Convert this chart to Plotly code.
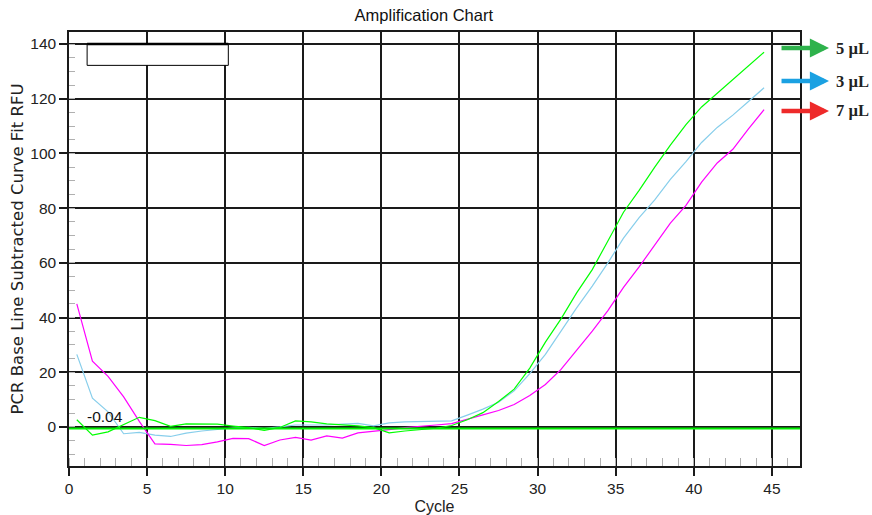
import plotly.graph_objects as go

cycles = [i + 0.5 for i in range(45)]

rfu_5ul = [2.6, -3.0, -1.8, 1.0, 3.5, 2.3, 0.2, 1.1, 1.1, 1.0,
           0.3, -0.3, -1.3, -0.2, 2.2, 1.8, 1.1, 0.7, 0.4, -0.3,
           -2.2, -1.5, -1.0, -0.5, 0.5, 2.6, 5.2, 9.3, 13.8, 21.5,
           31.0, 39.5, 49.0, 57.5, 68.0, 78.5, 86.5, 95.0, 103.0, 110.5,
           117.0, 122.0, 127.0, 132.0, 137.0]
rfu_3ul = [26.5, 10.5, 5.5, -2.5, -2.0, -3.0, -3.5, -2.3, -1.5, -1.0,
           -0.4, -0.2, -0.5, 0.0, 0.7, 0.7, 0.7, 1.0, 1.3, 0.4,
           1.5, 1.8, 1.9, 1.9, 2.2, 4.3, 6.5, 9.0, 13.2, 19.5,
           26.5, 35.0, 43.5, 51.5, 60.0, 69.0, 76.5, 83.0, 90.5, 97.0,
           104.0, 109.5, 114.0, 119.0, 124.0]
rfu_7ul = [45.0, 24.0, 18.5, 11.0, 2.0, -6.2, -6.4, -6.8, -6.5, -5.5,
           -4.2, -4.3, -6.8, -4.8, -3.8, -4.8, -3.3, -4.1, -2.2, -1.7,
           -1.0, -0.3, 0.3, 0.7, 1.2, 2.7, 4.4, 6.0, 8.2, 11.5,
           15.5, 21.0, 28.0, 35.0, 42.5, 51.0, 58.5, 66.5, 74.5, 81.0,
           89.5, 96.5, 101.5, 109.0, 116.0]

threshold = -0.04
series_names = ["5 µL", "3 µL", "7 µL"]
line_colors = ["#00ff00", "#87ceeb", "#ff00ff"]
arrow_colors = ["#2eb24c", "#1ba1e2", "#ee2a2a"]

fig = go.Figure()
order = [1, 2, 0]
data = [rfu_5ul, rfu_3ul, rfu_7ul]
for k in order:
    fig.add_trace(go.Scatter(x=cycles, y=data[k], mode="lines", name=series_names[k],
                             line=dict(color=line_colors[k], width=1.2), showlegend=False))

# threshold line (drawn just below the zero grid line, as in the original)
fig.add_shape(type="line", xref="x domain", x0=0, x1=1, yref="y",
              yanchor=threshold, ysizemode="pixel", y0=-1.5, y1=-1.5,
              line=dict(color="#00f000", width=2.2), layer="above")

# empty box at top-left
fig.add_shape(type="rect", xref="x", yref="y", x0=1.16, x1=10.2, y0=132.2, y1=140,
              fillcolor="white", line=dict(color="black", width=1), layer="above")
fig.add_shape(type="line", xref="x", yref="y", x0=1.16, x1=10.2, y0=140, y1=140,
              line=dict(color="black", width=2.5), layer="above")

fig.add_annotation(x=2.3, y=3.8, xref="x", yref="y", text=str(threshold), showarrow=False,
                   font=dict(family="Liberation Sans, Arial", size=15.5, color="#111"))

# arrows legend
ypos = [0.963, 0.887, 0.818]
for name, col, yy in zip(series_names, arrow_colors, ypos):
    fig.add_annotation(x=1.0397, y=yy, xref="paper", yref="paper", text="",
                       showarrow=True, ax=-49, ay=0, arrowhead=2, arrowsize=0.85,
                       arrowwidth=4.5, arrowcolor=col)
    fig.add_annotation(x=1.047, y=yy, xref="paper", yref="paper", text="<b>%s</b>" % name,
                       showarrow=False, xanchor="left", yanchor="middle",
                       font=dict(family="Liberation Serif, Times New Roman", size=16.5, color="#222"))

axis_font = dict(family="Liberation Sans, Arial", size=15.5, color="#222")
fig.update_layout(
    width=872, height=515,
    margin=dict(l=69, r=72, t=32, b=49, autoexpand=False),
    paper_bgcolor="white", plot_bgcolor="white",
    title=dict(text="Amplification Chart", x=0.486, xanchor="center", y=0.971, yanchor="middle",
               font=dict(family="Liberation Sans, Arial", size=16.5, color="#111")),
    font=axis_font,
)
fig.update_xaxes(range=[0, 46.8], dtick=5, tick0=0, showgrid=True, gridcolor="#1a1a1a", gridwidth=1.5,
                 showline=True, linecolor="#1a1a1a", linewidth=1.5, mirror=True,
                 ticks="outside", ticklen=8, tickcolor="#1a1a1a", tickwidth=1.5,
                 tickfont=axis_font, zeroline=False, automargin=False,
                 title=dict(text="Cycle", font=dict(family="Liberation Sans, Arial", size=16, color="#222"), standoff=4),
                 minor=dict(dtick=1, tick0=0, ticks="inside", ticklen=8, tickcolor="#b0b0b0",
                            tickwidth=1, showgrid=False))
fig.update_yaxes(range=[-14.3, 144.4], dtick=20, tick0=0, showgrid=True, gridcolor="#1a1a1a", gridwidth=1.5,
                 showline=True, linecolor="#1a1a1a", linewidth=1.5, mirror=True,
                 ticks="outside", ticklen=8, tickcolor="#1a1a1a", tickwidth=1.5,
                 tickfont=axis_font, zeroline=False, automargin=False,
                 title=dict(text="PCR Base Line Subtracted Curve Fit RFU",
                            font=dict(family="DejaVu Sans, Verdana", size=16.5, color="#222"), standoff=3),
                 minor=dict(dtick=5, tick0=0, ticks="inside", ticklen=6, tickcolor="#b0b0b0",
                            tickwidth=1, showgrid=False))

fig.write_html("out.html")
